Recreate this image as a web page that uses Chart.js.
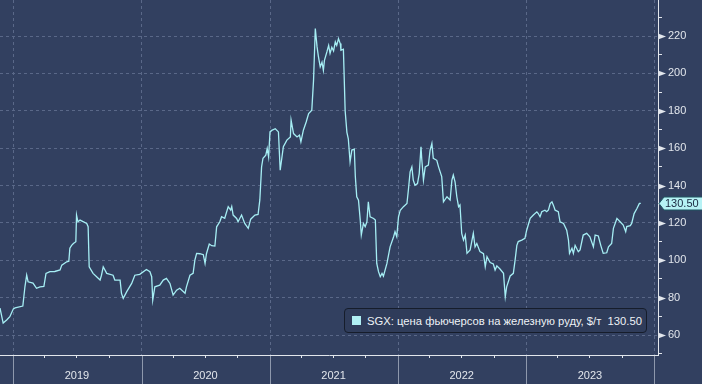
<!DOCTYPE html>
<html>
<head>
<meta charset="utf-8">
<script src="https://cdn.jsdelivr.net/npm/chart.js@4.4.1/dist/chart.umd.min.js"></script>
<style>
  html, body { margin: 0; padding: 0; background: #324060; }
  #wrap { position: relative; width: 702px; height: 384px; overflow: hidden; }
  #legend {
    position: absolute; left: 344px; top: 308px; width: 303px; height: 25px;
    box-sizing: border-box; border: 1px solid #161d2b; border-radius: 4px;
    background: #2f3c5a; color: #eef2f6;
    font: 11.25px "Liberation Sans", Arial, sans-serif;
    display: flex; align-items: center; white-space: pre;
  }
  #legend .sw { width: 9px; height: 9px; background: #b0f0f4; margin-left: 7px; margin-right: 6px; flex: none; }
</style>
</head>
<body>
<div id="wrap">
  <canvas id="c" width="702" height="384"></canvas>
  <div id="legend"><span class="sw"></span><span id="legText"></span></div>
</div>
<script>
// ---- data ----
const seriesName = 'SGX: цена фьючерсов на железную руду, $/т';
const lastValue = 130.50;
const yearLabels = ['2019', '2020', '2021', '2022', '2023'];
const yLabelValues = [60, 80, 100, 120, 140, 160, 180, 200, 220];

const dates2018 = ['2018-11-24','2018-12-03','2018-12-13','2018-12-22'];
const prices2018 = [74.4, 66.4, 68, 69.8];

const dates2019 = ['2019-01-01','2019-01-06','2019-01-28','2019-02-03','2019-02-08','2019-02-12','2019-02-26','2019-03-08','2019-03-18','2019-03-29','2019-04-04','2019-04-15','2019-04-29','2019-05-14','2019-05-19','2019-06-02','2019-06-08','2019-06-11','2019-06-16','2019-06-21','2019-06-28','2019-06-30','2019-07-04','2019-07-10','2019-07-29','2019-08-02','2019-08-05','2019-08-16','2019-09-05','2019-09-09','2019-09-14','2019-09-24','2019-10-12','2019-10-17','2019-11-01','2019-11-05','2019-11-10','2019-11-20','2019-12-04','2019-12-13','2019-12-27'];
const prices2019 = [74, 74.5, 75.5, 85.8, 92, 88.5, 87.8, 85, 85.8, 86, 93, 93.9, 94, 94.8, 97.4, 99.2, 99.5, 106.5, 108, 109, 109.9, 124.2, 120.6, 121.5, 119.7, 118, 96.5, 93, 89.4, 92, 96.5, 93, 92, 89.4, 89.4, 82.3, 79.6, 83.2, 87.6, 92, 92.5];

const dates2020 = ['2020-01-15','2020-01-25','2020-01-30','2020-02-02','2020-02-08','2020-02-22','2020-03-03','2020-03-12','2020-03-22','2020-03-31','2020-04-10','2020-04-19','2020-05-04','2020-05-08','2020-05-18','2020-05-27','2020-06-01','2020-06-06','2020-06-15','2020-06-25','2020-06-30','2020-07-04','2020-07-12','2020-07-19','2020-07-28','2020-08-02','2020-08-11','2020-08-16','2020-08-25','2020-09-04','2020-09-11','2020-09-14','2020-09-18','2020-09-28','2020-10-02','2020-10-12','2020-10-21','2020-10-31','2020-11-07','2020-11-19','2020-11-28','2020-12-03','2020-12-08','2020-12-12','2020-12-20','2020-12-24','2020-12-28'];
const prices2020 = [95.1, 93.9, 91.2, 78.7, 85.8, 86.7, 89.4, 90.3, 87.6, 81.4, 84, 85, 82.3, 85.8, 92, 93, 100.1, 103.7, 103.5, 103, 98.3, 103.5, 108.7, 107.8, 107.6, 117.9, 120.6, 123.3, 122.5, 128.7, 126.9, 128.7, 124.2, 122.4, 120.6, 124.2, 119.7, 117.1, 122, 124.2, 124.5, 132.3, 150, 154.6, 156.3, 159.8, 155.3];

const dates2021 = ['2021-01-01','2021-01-06','2021-01-16','2021-01-25','2021-01-30','2021-02-08','2021-02-18','2021-02-28','2021-03-02','2021-03-09','2021-03-19','2021-03-26','2021-03-30','2021-04-06','2021-04-14','2021-04-21','2021-04-30','2021-05-05','2021-05-10','2021-05-15','2021-05-19','2021-05-24','2021-05-29','2021-06-02','2021-06-05','2021-06-12','2021-06-17','2021-06-21','2021-06-26','2021-07-01','2021-07-06','2021-07-10','2021-07-15','2021-07-20','2021-07-22','2021-07-29','2021-08-03','2021-08-08','2021-08-12','2021-08-17','2021-08-22','2021-08-29','2021-09-01','2021-09-05','2021-09-10','2021-09-15','2021-09-18','2021-09-24','2021-09-29','2021-10-04','2021-10-08','2021-10-13','2021-10-23','2021-10-28','2021-11-01','2021-11-06','2021-11-11','2021-11-16','2021-11-20','2021-11-30','2021-12-09','2021-12-19','2021-12-23','2021-12-28'];
const prices2021 = [168.7, 169.5, 170.4, 168.7, 148.2, 160.8, 164.3, 166, 175, 167.8, 166, 167, 163.4, 169.6, 174, 178.5, 180.3, 196.4, 224, 214.2, 208.8, 203.5, 206, 201.7, 207, 211.5, 215, 210.7, 214, 212, 216.9, 215, 218.6, 216, 212.4, 213, 180, 168.5, 165, 152.7, 159, 159.5, 144.8, 134, 132.2, 121.5, 113.5, 119.7, 118, 120.6, 131.3, 123.3, 122.4, 121.5, 98.3, 93.9, 91.2, 93, 91.5, 98.3, 107.2, 112.6, 115.3, 112.6];

const dates2022 = ['2022-01-02','2022-01-07','2022-01-16','2022-01-26','2022-01-30','2022-02-04','2022-02-09','2022-02-13','2022-02-18','2022-02-25','2022-03-02','2022-03-07','2022-03-09','2022-03-14','2022-03-19','2022-03-28','2022-04-02','2022-04-07','2022-04-11','2022-04-21','2022-04-26','2022-05-05','2022-05-10','2022-05-20','2022-05-29','2022-06-03','2022-06-07','2022-06-12','2022-06-17','2022-06-22','2022-06-26','2022-07-01','2022-07-06','2022-07-11','2022-07-16','2022-07-25','2022-08-03','2022-08-08','2022-08-13','2022-08-22','2022-09-01','2022-09-06','2022-09-11','2022-09-20','2022-09-29','2022-10-04','2022-10-09','2022-10-18','2022-10-28','2022-11-02','2022-11-06','2022-11-16','2022-11-25','2022-11-30','2022-12-05','2022-12-09','2022-12-19','2022-12-28'];
const prices2022 = [123.3, 126.8, 128.7, 130.4, 137.5, 147.3, 150, 142.9, 140.2, 141, 146.4, 160.7, 154.6, 142.9, 150, 150.9, 159, 162.5, 154.6, 153.5, 150, 144.8, 131.3, 134, 132.2, 142.9, 145.6, 142, 134, 128.7, 129.6, 114.4, 110.8, 113.5, 103.7, 105.5, 114.4, 107.2, 109, 104.6, 103.5, 96.5, 101.9, 98.8, 98, 94.8, 97, 95.3, 93, 80.5, 85.8, 91.6, 93, 100.1, 108, 110, 110.8, 111.7];

const dates2023 = ['2023-01-02','2023-01-12','2023-01-21','2023-01-31','2023-02-04','2023-02-09','2023-02-14','2023-02-23','2023-02-28','2023-03-05','2023-03-10','2023-03-15','2023-03-19','2023-03-24','2023-04-02','2023-04-07','2023-04-17','2023-04-26','2023-05-01','2023-05-04','2023-05-11','2023-05-15','2023-05-20','2023-05-29','2023-06-03','2023-06-12','2023-06-22','2023-07-01','2023-07-11','2023-07-16','2023-07-25','2023-08-01','2023-08-08','2023-08-18','2023-08-23','2023-09-01','2023-09-06','2023-09-16','2023-09-25','2023-10-04','2023-10-11','2023-10-14','2023-10-24','2023-10-28','2023-11-04','2023-11-12','2023-11-19','2023-11-23'];
const prices2023 = [116.1, 122.4, 124.2, 125.9, 125, 123.3, 126, 126.8, 126, 127, 130.4, 131.3, 129.5, 126.8, 126, 120.6, 119.7, 116.1, 110.8, 103.7, 106.4, 103.7, 108, 104.6, 105.5, 113.5, 114.4, 112.6, 107.2, 113.5, 113, 108, 103.7, 104, 107.2, 109, 117.1, 122.4, 120.6, 118.8, 115.3, 118, 118.5, 119.7, 125, 127.7, 130.4, 130.5];

// axis ranges
const xStart = Date.parse('2018-11-24');
const xEnd = Date.parse('2024-01-11');
const yMin = 49.3, yMax = 239.3;

// ---- build ----
const dates = [].concat(dates2018, dates2019, dates2020, dates2021, dates2022, dates2023);
const prices = [].concat(prices2018, prices2019, prices2020, prices2021, prices2022, prices2023);
const points = dates.map((d, i) => ({ x: Date.parse(d), y: prices[i] }));

document.getElementById('legText').textContent = seriesName + '  ' + lastValue.toFixed(2);

const quarterTicks = [];
for (let yr = 2019; yr <= 2024; yr++) {
  for (let m = 0; m < 12; m += 3) {
    const t = Date.UTC(yr, m, 1);
    if (t >= xStart && t <= xEnd) quarterTicks.push(t);
  }
}
const yearStarts = [];
for (let yr = 2019; yr <= 2024; yr++) yearStarts.push(Date.UTC(yr, 0, 1));
const yTicks = [];
for (let v = 50; v <= 230; v += 10) yTicks.push(v);

const GRID = '#5a6888';
const AXIS = '#e2e6ec';
const isYearStart = v => new Date(v).getUTCMonth() === 0;

const decor = {
  id: 'decor',
  afterDraw(chart) {
    const { ctx, chartArea: a, scales: { x, y } } = chart;
    ctx.save();
    // year separators below the time axis
    ctx.strokeStyle = '#8e98ac';
    ctx.lineWidth = 1;
    yearStarts.forEach(t => {
      const px = Math.round(x.getPixelForValue(t)) + 0.5;
      ctx.beginPath();
      ctx.moveTo(px, a.bottom + 1);
      ctx.lineTo(px, chart.height);
      ctx.stroke();
    });
    // triangle markers on major y ticks
    ctx.fillStyle = AXIS;
    yLabelValues.forEach(v => {
      const py = Math.round(y.getPixelForValue(v)) + 0.5;
      ctx.beginPath();
      ctx.moveTo(a.right, py - 3);
      ctx.lineTo(a.right + 8, py);
      ctx.lineTo(a.right, py + 3);
      ctx.closePath();
      ctx.fill();
    });
    // last value tag
    const py = Math.round(y.getPixelForValue(lastValue)) + 0.5;
    const l = a.right + 1, h = 6.5;
    ctx.beginPath();
    ctx.moveTo(l, py);
    ctx.lineTo(l + 5, py - h);
    ctx.lineTo(chart.width + 2, py - h);
    ctx.lineTo(chart.width + 2, py + h);
    ctx.lineTo(l + 5, py + h);
    ctx.closePath();
    ctx.fillStyle = '#b6f2f5';
    ctx.fill();
    ctx.strokeStyle = '#1e5560';
    ctx.lineWidth = 1;
    ctx.stroke();
    ctx.fillStyle = '#1a2840';
    ctx.font = '11px "Liberation Sans", Arial, sans-serif';
    ctx.textAlign = 'left';
    ctx.textBaseline = 'middle';
    ctx.fillText(lastValue.toFixed(2), l + 6, py + 0.5);
    ctx.restore();
  }
};

new Chart(document.getElementById('c'), {
  type: 'line',
  data: {
    datasets: [{
      label: seriesName,
      data: points,
      borderColor: '#a6eef4',
      borderWidth: 1.3,
      pointRadius: 0,
      tension: 0,
      fill: false
    }]
  },
  options: {
    responsive: false,
    animation: false,
    devicePixelRatio: 1,
    layout: { padding: 0 },
    plugins: { legend: { display: false }, tooltip: { enabled: false } },
    scales: {
      x: {
        type: 'linear',
        position: 'bottom',
        min: xStart,
        max: xEnd,
        afterBuildTicks: s => { s.ticks = quarterTicks.map(v => ({ value: v })); },
        afterFit: s => { s.height = 29; s.paddingLeft = 0; s.paddingRight = 0; },
        grid: {
          color: c => (c.tick && isYearStart(c.tick.value)) ? GRID : 'transparent',
          tickColor: c => (c.tick && isYearStart(c.tick.value)) ? 'transparent' : AXIS,
          tickLength: 3,
          lineWidth: 1
        },
        border: { display: true, color: AXIS, width: 1, dash: [3, 3] },
        ticks: {
          autoSkip: false,
          maxRotation: 0,
          padding: 11,
          color: '#e2e6ec',
          font: { family: '"Liberation Sans", Arial, sans-serif', size: 11 },
          callback: v => {
            const d = new Date(v);
            if (d.getUTCMonth() === 6) {
              const idx = d.getUTCFullYear() - 2019;
              return yearLabels[idx] || '';
            }
            return '';
          }
        }
      },
      y: {
        type: 'linear',
        position: 'right',
        min: yMin,
        max: yMax,
        afterBuildTicks: s => { s.ticks = yTicks.map(v => ({ value: v })); },
        afterFit: s => { s.width = 44; s.paddingTop = 0; s.paddingBottom = 0; },
        grid: {
          color: c => (c.tick && yLabelValues.includes(c.tick.value)) ? GRID : 'transparent',
          tickColor: AXIS,
          tickLength: 4,
          lineWidth: 1
        },
        border: { display: true, color: AXIS, width: 1, dash: [3, 3] },
        ticks: {
          padding: 6,
          color: '#e2e6ec',
          font: { family: '"Liberation Sans", Arial, sans-serif', size: 11 },
          callback: v => yLabelValues.includes(v) ? String(v) : ''
        }
      }
    }
  },
  plugins: [decor]
});
</script>
</body>
</html>
